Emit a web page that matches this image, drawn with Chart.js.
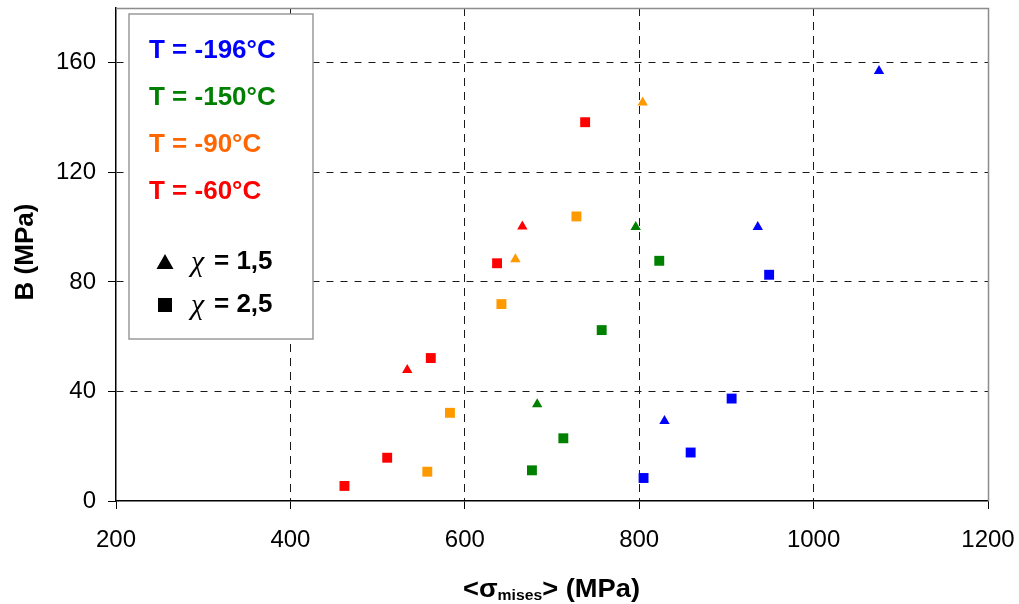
<!DOCTYPE html>
<html>
<head>
<meta charset="utf-8">
<script src="https://cdn.jsdelivr.net/npm/chart.js@4/dist/chart.umd.min.js"></script>
<style>
  html, body { margin: 0; padding: 0; background: #fff; }
  #c { display: block; }
</style>
</head>
<body>
<canvas id="c" width="1019" height="604"></canvas>
<script>
// ---- data ----
const xTickValues = [200, 400, 600, 800, 1000, 1200];
const yTickValues = [0, 40, 80, 120, 160];

const tempLabels = ['T = -196°C', 'T = -150°C', 'T = -90°C', 'T = -60°C'];
const chiLabels = ['= 1,5', '= 2,5'];
const xTitleParts = ['<', 'σ', 'mises', '>', '(MPa)'];
const yTitle = 'B (MPa)';

// T = -196°C
const sig196Tri = [829, 936, 1075];
const B196Tri   = [29.2, 100, 157];
const sig196Sq  = [805, 859, 906, 949];
const B196Sq    = [8.4, 17.7, 37.4, 82.6];
// T = -150°C
const sig150Tri = [683, 796];
const B150Tri   = [35.3, 100];
const sig150Sq  = [677, 713, 757, 823];
const B150Sq    = [11.2, 22.9, 62.4, 87.7];
// T = -90°C
const sig90Tri  = [658, 804];
const B90Tri    = [88.3, 145.5];
const sig90Sq   = [557, 583, 642, 728];
const B90Sq     = [10.7, 32.2, 71.9, 103.9];
// T = -60°C
const sig60Tri  = [534, 666];
const B60Tri    = [47.8, 100.2];
const sig60Sq   = [462, 511, 561, 637, 738];
const B60Sq     = [5.5, 15.8, 52.2, 86.8, 138.3];

// ---- styles ----
const FONT = '"Liberation Sans", Arial, sans-serif';
const pointColors = ['#0000FF', '#008000', '#FF9900', '#FF0000'];
const legendTextColors = ['#0000FF', '#008000', '#FF6600', '#FF0000'];

function pts(xs, ys) { return xs.map((x, i) => ({ x: x, y: ys[i] })); }
function ds(label, xs, ys, color, shape) {
  return {
    label: label,
    data: pts(xs, ys),
    backgroundColor: color,
    borderColor: color,
    borderWidth: 0,
    pointStyle: shape === 'tri' ? 'triangle' : 'rect',
    pointRadius: shape === 'tri' ? 6 : 7,
    pointHoverRadius: shape === 'tri' ? 6 : 7,
    showLine: false
  };
}

const datasets = [
  ds('-196 tri', sig196Tri, B196Tri, pointColors[0], 'tri'),
  ds('-196 sq',  sig196Sq,  B196Sq,  pointColors[0], 'sq'),
  ds('-150 tri', sig150Tri, B150Tri, pointColors[1], 'tri'),
  ds('-150 sq',  sig150Sq,  B150Sq,  pointColors[1], 'sq'),
  ds('-90 tri',  sig90Tri,  B90Tri,  pointColors[2], 'tri'),
  ds('-90 sq',   sig90Sq,   B90Sq,   pointColors[2], 'sq'),
  ds('-60 tri',  sig60Tri,  B60Tri,  pointColors[3], 'tri'),
  ds('-60 sq',   sig60Sq,   B60Sq,   pointColors[3], 'sq')
];

function zeroPad(s) { s.paddingLeft = 0; s.paddingRight = 0; s.paddingTop = 0; s.paddingBottom = 0; }

const decorPlugin = {
  id: 'decor',
  beforeDatasetsDraw(chart) {
    const ctx = chart.ctx;
    const a = chart.chartArea;
    ctx.save();
    // top and right frame (gray)
    ctx.strokeStyle = '#8c8c8c';
    ctx.lineWidth = 1.5;
    ctx.beginPath();
    ctx.moveTo(a.left, a.top + 0.5);
    ctx.lineTo(a.right + 0.5, a.top + 0.5);
    ctx.lineTo(a.right + 0.5, a.bottom);
    ctx.stroke();

    // legend box
    const bx = 129, by = 14, bw = 184, bh = 325;
    ctx.fillStyle = '#ffffff';
    ctx.fillRect(bx, by, bw, bh);
    ctx.strokeStyle = '#9a9a9a';
    ctx.lineWidth = 1.5;
    ctx.strokeRect(bx, by, bw, bh);

    ctx.textBaseline = 'middle';
    ctx.textAlign = 'left';
    ctx.font = 'bold 26px ' + FONT;
    const rowY = [51, 98, 144.5, 192];
    tempLabels.forEach((t, i) => {
      ctx.fillStyle = legendTextColors[i];
      ctx.fillText(t, 149, rowY[i]);
    });

    // shape legend
    ctx.fillStyle = '#000';
    const ty = 262;
    ctx.beginPath();
    ctx.moveTo(165, ty - 8);
    ctx.lineTo(173.5, ty + 7);
    ctx.lineTo(156.5, ty + 7);
    ctx.closePath();
    ctx.fill();
    ctx.fillRect(158, 298, 14, 14);

    const chiY = [262, 305];
    chiY.forEach((y, i) => {
      ctx.font = 'italic 30px "Liberation Serif", "DejaVu Serif", serif';
      ctx.fillText('χ', 191, y + 1);
      ctx.font = 'bold 26px ' + FONT;
      ctx.fillText(chiLabels[i], 214, y);
    });
    ctx.restore();
  },
  afterDraw(chart) {
    const ctx = chart.ctx;
    ctx.save();
    ctx.fillStyle = '#000';
    ctx.font = 'bold 26px ' + FONT;
    ctx.translate(26, 252);
    ctx.rotate(-Math.PI / 2);
    ctx.textAlign = 'center';
    ctx.textBaseline = 'middle';
    ctx.fillText(yTitle, 0, 0);
    ctx.restore();

    // x title with subscript
    ctx.save();
    ctx.fillStyle = '#000';
    ctx.textBaseline = 'alphabetic';
    ctx.textAlign = 'left';
    const big = 'bold 26px ' + FONT;
    const small = 'bold 15px ' + FONT;
    const parts = [
      { t: xTitleParts[0], f: big, dy: 0 },
      { t: xTitleParts[1], f: big, dy: 0 },
      { t: xTitleParts[2], f: small, dy: 3 },
      { t: xTitleParts[3], f: big, dy: 0 },
      { t: ' ', f: big, dy: 0 },
      { t: xTitleParts[4], f: big, dy: 0 }
    ];
    let total = 0;
    parts.forEach(p => { ctx.font = p.f; p.w = ctx.measureText(p.t).width; total += p.w; });
    const x0 = 463, targetW = 177;
    const sx = targetW / total;
    ctx.translate(x0, 597);
    ctx.scale(sx, 1);
    let cx = 0;
    parts.forEach(p => { ctx.font = p.f; ctx.fillText(p.t, cx, p.dy); cx += p.w; });
    ctx.restore();
  }
};

new Chart(document.getElementById('c'), {
  type: 'scatter',
  data: { datasets: datasets },
  plugins: [decorPlugin],
  options: {
    responsive: false,
    animation: false,
    devicePixelRatio: 1,
    layout: { padding: { top: 8, right: 31, left: 0, bottom: 0 } },
    plugins: { legend: { display: false }, tooltip: { enabled: false } },
    scales: {
      x: {
        type: 'linear',
        min: 200, max: 1200,
        afterBuildTicks: s => { s.ticks = xTickValues.map(v => ({ value: v })); },
        afterFit: s => { s.height = 103; zeroPad(s); },
        ticks: { font: { family: FONT, size: 24 }, color: '#000', padding: 17, maxRotation: 0,
                 callback: v => String(v) },
        grid: {
          color: c => (c.tick && (c.tick.value === 200 || c.tick.value === 1200)) ? 'rgba(0,0,0,0)' : '#1a1a1a',
          lineWidth: 1,
          tickColor: '#000',
          tickLength: 8,
          tickBorderDash: []
        },
        border: { display: true, color: '#000', width: 1.5, dash: [8, 6] }
      },
      y: {
        type: 'linear',
        min: 0, max: 180,
        afterBuildTicks: s => { s.ticks = yTickValues.map(v => ({ value: v })); },
        afterFit: s => { s.width = 116; zeroPad(s); },
        ticks: { font: { family: FONT, size: 24 }, color: '#000', padding: 12,
                 callback: v => String(v) },
        grid: {
          color: c => (c.tick && c.tick.value === 0) ? 'rgba(0,0,0,0)' : '#1a1a1a',
          lineWidth: 1,
          tickColor: '#000',
          tickLength: 8,
          tickBorderDash: []
        },
        border: { display: true, color: '#000', width: 1.5, dash: [7, 7] }
      }
    }
  }
});
</script>
</body>
</html>
